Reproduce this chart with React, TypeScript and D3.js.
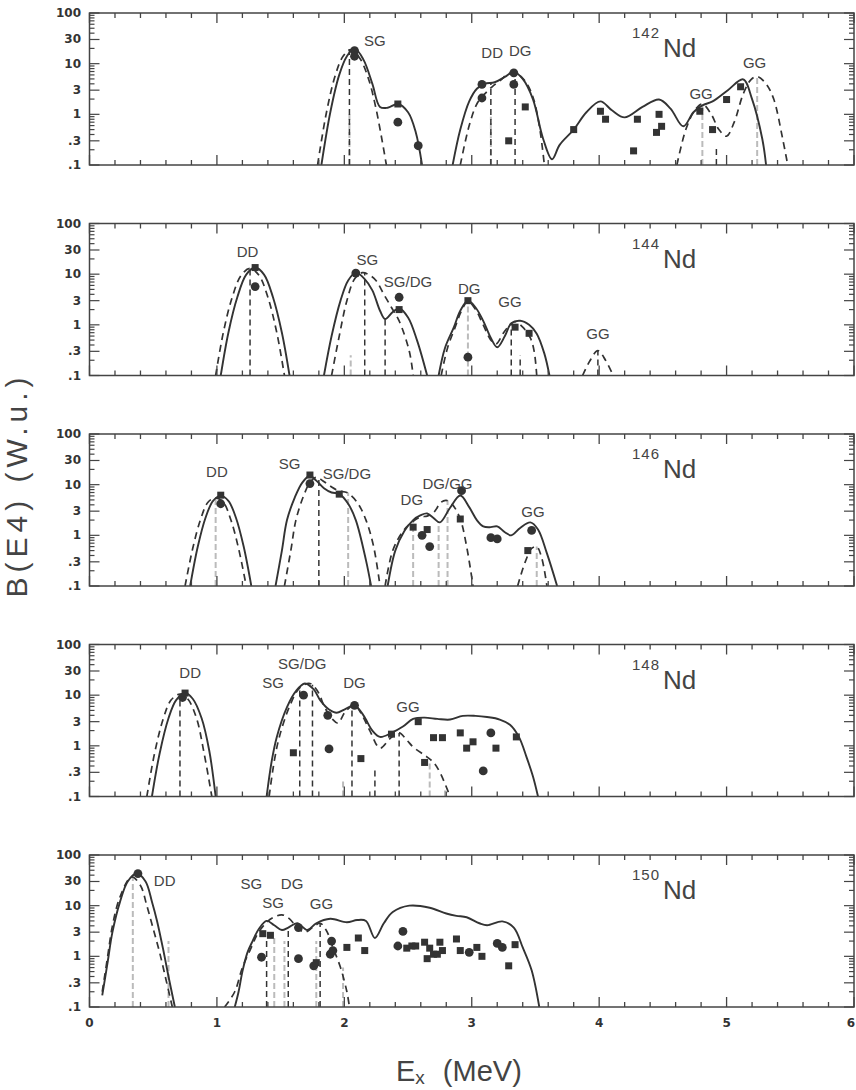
import * as d3 from 'd3';

type Pt = [number, number];
type Lab = { text: string; x: number; y: number };

// ---- 142Nd ----
const nd142Solid: Pt[][] = [
  [[1.82, 0.1], [1.89, 1.1], [1.96, 6], [2.02, 14], [2.08, 20], [2.15, 12], [2.22, 4], [2.28, 1.4], [2.34, 1.35], [2.42, 1.6], [2.5, 1.1], [2.56, 0.45], [2.61, 0.1]],
  [[2.85, 0.1], [2.91, 0.5], [2.98, 1.8], [3.04, 3.2], [3.1, 4.0], [3.18, 4.3], [3.26, 5.5], [3.33, 6.9], [3.4, 5], [3.48, 2], [3.56, 0.33], [3.63, 0.13], [3.69, 0.25], [3.8, 0.5], [3.9, 1.1], [4.01, 1.8], [4.1, 1.2], [4.2, 0.87], [4.34, 1.4], [4.47, 1.96], [4.56, 1.3], [4.66, 0.58], [4.74, 1.1], [4.81, 1.5], [4.89, 1.8], [5.01, 3], [5.13, 4.9], [5.2, 2.0], [5.28, 0.33], [5.31, 0.1]],
];
const nd142Dashed: Pt[][] = [
  [[1.79, 0.1], [1.86, 1.1], [1.93, 6], [1.99, 14], [2.05, 19], [2.12, 13], [2.19, 5], [2.25, 1.25], [2.33, 0.1]],
  [[2.91, 0.1], [2.98, 0.6], [3.04, 1.6], [3.1, 2.5], [3.16, 3.5], [3.23, 4.8], [3.28, 6.2], [3.34, 6.6], [3.42, 4.5], [3.48, 2.2], [3.53, 0.6], [3.57, 0.1]],
  [[4.61, 0.1], [4.68, 0.5], [4.75, 1.2], [4.81, 1.6], [4.88, 1.0], [4.94, 0.5], [5.0, 0.37], [5.06, 0.7], [5.13, 2.5], [5.19, 4.8], [5.24, 5.6], [5.31, 4], [5.37, 2], [5.44, 0.33], [5.48, 0.1]],
];
const nd142Sticks: Pt[] = [[2.04, 19], [3.15, 4.2], [3.34, 6.6], [4.92, 0.24]];
const nd142Faint: Pt[] = [[2.04, 1], [3.15, 0.9], [4.81, 1.5], [5.24, 5.6]];
const nd142Circles: Pt[] = [[2.08, 18], [2.08, 14], [2.42, 0.7], [2.58, 0.24], [3.08, 3.9], [3.08, 2.1], [3.33, 6.6], [3.33, 3.9]];
const nd142Squares: Pt[] = [[2.42, 1.6], [3.42, 1.4], [3.29, 0.3], [3.8, 0.5], [4.01, 1.15], [4.05, 0.8], [4.27, 0.19], [4.3, 0.8], [4.47, 1.0], [4.49, 0.58], [4.45, 0.44], [4.79, 1.15], [4.89, 0.5], [5.0, 1.96], [5.11, 3.5]];
const nd142Labels: Lab[] = [
  { text: 'SG', x: 2.24, y: 29 }, { text: 'DD', x: 3.16, y: 16.6 }, { text: 'DG', x: 3.38, y: 18 },
  { text: 'GG', x: 4.8, y: 2.6 }, { text: 'GG', x: 5.22, y: 10.5 },
];

// ---- 144Nd ----
const nd144Solid: Pt[][] = [
  [[1.03, 0.1], [1.09, 0.7], [1.16, 3.5], [1.23, 9.8], [1.3, 13.5], [1.37, 9.8], [1.44, 3.5], [1.51, 0.7], [1.57, 0.1]],
  [[1.84, 0.1], [1.9, 0.6], [1.97, 3], [2.03, 7.5], [2.09, 10.7], [2.16, 8], [2.22, 4.8], [2.28, 1.9], [2.32, 1.3], [2.38, 1.8], [2.43, 2.1], [2.5, 1.4], [2.57, 0.5], [2.65, 0.1]],
  [[2.74, 0.1], [2.79, 0.35], [2.86, 0.9], [2.91, 1.9], [2.97, 3.0], [3.03, 2.2], [3.09, 1.2], [3.15, 0.55], [3.2, 0.36], [3.26, 0.6], [3.31, 1.07], [3.38, 1.2], [3.45, 1.0], [3.51, 0.67], [3.57, 0.27], [3.61, 0.1]],
];
const nd144Dashed: Pt[][] = [
  [[0.99, 0.1], [1.05, 0.7], [1.12, 3.5], [1.19, 9.5], [1.26, 13], [1.33, 9.5], [1.4, 3.5], [1.47, 0.7], [1.53, 0.1]],
  [[1.9, 0.1], [1.96, 0.6], [2.02, 3], [2.08, 8], [2.14, 10.7], [2.2, 9.5], [2.25, 7.4], [2.31, 4], [2.37, 2.2], [2.43, 1.2], [2.51, 0.3], [2.54, 0.1]],
  [[2.76, 0.1], [2.81, 0.35], [2.87, 0.9], [2.92, 1.9], [2.97, 2.9], [3.03, 2.0], [3.09, 1.0], [3.15, 0.5], [3.19, 0.42], [3.25, 0.7], [3.3, 1.0], [3.34, 1.15], [3.4, 0.9], [3.46, 0.55], [3.49, 0.3], [3.51, 0.1]],
  [[3.87, 0.1], [3.93, 0.2], [3.99, 0.31], [4.05, 0.2], [4.11, 0.1]],
];
const nd144Sticks: Pt[] = [[1.26, 13], [2.16, 10.5], [2.32, 1.3], [3.31, 1.07], [3.38, 0.25], [3.99, 0.31]];
const nd144Faint: Pt[] = [[2.97, 3.0], [2.05, 0.25]];
const nd144Circles: Pt[] = [[1.3, 5.7], [2.09, 10.5], [2.43, 3.5], [2.97, 0.23]];
const nd144Squares: Pt[] = [[1.3, 13.5], [2.43, 2.0], [2.97, 3.0], [3.34, 0.9], [3.45, 0.68]];
const nd144Labels: Lab[] = [
  { text: 'DD', x: 1.24, y: 28 }, { text: 'SG', x: 2.18, y: 19.5 }, { text: 'SG/DG', x: 2.5, y: 7.2 },
  { text: 'DG', x: 2.98, y: 5.1 }, { text: 'GG', x: 3.3, y: 2.9 }, { text: 'GG', x: 3.99, y: 0.66 },
];

// ---- 146Nd ----
const nd146Solid: Pt[][] = [
  [[0.79, 0.1], [0.85, 0.6], [0.91, 2.2], [0.97, 4.8], [1.03, 6], [1.09, 4.8], [1.15, 2.2], [1.21, 0.6], [1.27, 0.1]],
  [[1.46, 0.1], [1.51, 0.5], [1.55, 2.0], [1.61, 5.5], [1.67, 11], [1.73, 15], [1.78, 12], [1.84, 8.5], [1.9, 7], [1.96, 6.6], [2.03, 4.2], [2.09, 2.0], [2.17, 0.32], [2.21, 0.1]],
  [[2.34, 0.1], [2.4, 0.5], [2.47, 1.2], [2.54, 2.0], [2.6, 2.5], [2.65, 2.7], [2.7, 2.2], [2.75, 1.8], [2.83, 3.5], [2.91, 6.1], [2.98, 3.6], [3.04, 2.0], [3.09, 1.5], [3.15, 1.45], [3.2, 1.5], [3.26, 1.15], [3.31, 1.0], [3.38, 1.4], [3.46, 1.8], [3.52, 1.3], [3.59, 0.44], [3.67, 0.1]],
];
const nd146Dashed: Pt[][] = [
  [[0.75, 0.1], [0.81, 0.55], [0.87, 2], [0.93, 4.5], [0.99, 5.5], [1.05, 4.5], [1.11, 2], [1.17, 0.55], [1.23, 0.1]],
  [[1.53, 0.1], [1.58, 0.5], [1.62, 2], [1.68, 6], [1.73, 11], [1.78, 14], [1.83, 12], [1.9, 9], [1.96, 7.5], [2.02, 7], [2.1, 4.5], [2.17, 2.0], [2.23, 0.6], [2.28, 0.1]],
  [[2.32, 0.1], [2.38, 0.5], [2.46, 1.2], [2.54, 1.9], [2.6, 2.3], [2.65, 2.4], [2.7, 2.8], [2.76, 4.5], [2.8, 4.9], [2.85, 4], [2.91, 2.1], [2.96, 0.6], [3.01, 0.1]],
  [[3.36, 0.1], [3.42, 0.3], [3.47, 0.55], [3.51, 0.6], [3.55, 0.35], [3.59, 0.1]],
];
const nd146Sticks: Pt[] = [[1.8, 14]];
const nd146Faint: Pt[] = [[0.99, 5.5], [2.03, 7], [2.54, 1.9], [2.74, 1.8], [2.81, 4.9], [3.51, 0.6]];
const nd146Circles: Pt[] = [[1.03, 4.2], [1.73, 10.5], [2.61, 1.0], [2.67, 0.6], [2.92, 7.6], [3.15, 0.9], [3.2, 0.85], [3.47, 1.25]];
const nd146Squares: Pt[] = [[1.03, 6.2], [1.73, 15.5], [1.96, 6.5], [2.54, 1.45], [2.65, 1.3], [2.91, 2.1], [3.44, 0.5]];
const nd146Labels: Lab[] = [
  { text: 'DD', x: 1.0, y: 18 }, { text: 'SG', x: 1.57, y: 26 }, { text: 'SG/DG', x: 2.02, y: 16.6 },
  { text: 'DG', x: 2.53, y: 5.1 }, { text: 'DG/GG', x: 2.81, y: 10.5 }, { text: 'GG', x: 3.48, y: 2.9 },
];

// ---- 148Nd ----
const nd148Solid: Pt[][] = [
  [[0.49, 0.1], [0.55, 0.7], [0.62, 3.5], [0.68, 8], [0.75, 11], [0.81, 8.5], [0.88, 3.5], [0.94, 0.8], [0.99, 0.1]],
  [[1.39, 0.1], [1.43, 0.5], [1.47, 1.5], [1.55, 5.8], [1.62, 12], [1.69, 17], [1.76, 13], [1.81, 8], [1.88, 5.2], [1.94, 4.5], [2.0, 5.2], [2.08, 6.3], [2.15, 4], [2.22, 2.0], [2.28, 1.5], [2.37, 1.8], [2.46, 2.4], [2.54, 3.4], [2.63, 3.6], [2.73, 3.4], [2.83, 3.3], [2.93, 3.9], [3.03, 3.9], [3.12, 3.7], [3.22, 3.3], [3.3, 2.6], [3.37, 1.5], [3.43, 0.6], [3.48, 0.25], [3.52, 0.1]],
];
const nd148Dashed: Pt[][] = [
  [[0.45, 0.1], [0.51, 0.7], [0.58, 3.5], [0.64, 8], [0.71, 10.5], [0.77, 8.5], [0.84, 3.5], [0.9, 0.7], [0.96, 0.1]],
  [[1.41, 0.1], [1.45, 0.5], [1.49, 1.5], [1.57, 6], [1.65, 14], [1.73, 17], [1.79, 12], [1.85, 5.5], [1.91, 3.3], [1.95, 2.8], [2.01, 4.8], [2.08, 6.3], [2.14, 4], [2.2, 2.0], [2.28, 0.9], [2.36, 1.4], [2.43, 1.8], [2.49, 1.3], [2.54, 0.95], [2.65, 0.6], [2.7, 0.47], [2.75, 0.3], [2.83, 0.1]],
];
const nd148Sticks: Pt[] = [[0.71, 10.5], [1.65, 14], [1.75, 16], [2.06, 6.3], [2.24, 0.33], [2.43, 1.8]];
const nd148Faint: Pt[] = [[1.99, 0.2], [2.67, 0.47], [2.79, 0.15]];
const nd148Circles: Pt[] = [[0.73, 9], [1.68, 10], [1.88, 0.87], [1.87, 4.0], [2.08, 6.3], [3.15, 1.8], [3.09, 0.32]];
const nd148Squares: Pt[] = [[0.75, 11], [1.6, 0.73], [2.13, 0.56], [2.37, 1.7], [2.58, 3.0], [2.63, 0.47], [2.7, 1.45], [2.77, 1.45], [2.91, 1.8], [2.96, 0.9], [3.01, 1.2], [3.19, 0.9], [3.35, 1.5]];
const nd148Labels: Lab[] = [
  { text: 'DD', x: 0.79, y: 28 }, { text: 'SG/DG', x: 1.67, y: 43 }, { text: 'SG', x: 1.44, y: 17.5 },
  { text: 'DG', x: 2.08, y: 17.5 }, { text: 'GG', x: 2.5, y: 6 },
];

// ---- 150Nd ----
const nd150Solid: Pt[][] = [
  [[0.1, 0.17], [0.14, 0.7], [0.18, 3], [0.24, 12], [0.3, 30], [0.37, 43], [0.44, 30], [0.49, 12], [0.53, 5], [0.58, 1.3], [0.62, 0.4], [0.67, 0.1]],
  [[1.14, 0.1], [1.17, 0.2], [1.2, 0.5], [1.24, 1.2], [1.28, 2.0], [1.33, 3.5], [1.39, 5], [1.45, 4.1], [1.51, 3.3], [1.56, 3.7], [1.63, 4.5], [1.71, 3.3], [1.78, 4.5], [1.89, 5.5], [2.02, 4.7], [2.1, 5.2], [2.17, 5], [2.24, 2.3], [2.31, 4.5], [2.38, 7.5], [2.51, 10], [2.67, 9.1], [2.8, 7], [2.88, 6.3], [2.96, 5.9], [3.06, 4.5], [3.12, 4.1], [3.24, 4.9], [3.33, 3.7], [3.4, 1.5], [3.47, 0.53], [3.53, 0.1]],
];
const nd150Dashed: Pt[][] = [
  [[0.1, 0.2], [0.14, 0.9], [0.18, 4], [0.24, 15], [0.33, 37], [0.4, 25], [0.45, 10], [0.5, 3.5], [0.55, 1.2], [0.6, 0.35], [0.65, 0.1]],
  [[1.06, 0.1], [1.14, 0.2], [1.2, 0.6], [1.27, 1.5], [1.32, 2.8], [1.39, 4.7], [1.44, 5.8], [1.51, 6.6], [1.57, 5.5], [1.63, 3.7], [1.69, 3.0], [1.75, 3.7], [1.81, 4.5], [1.86, 3.2], [1.91, 1.5], [1.97, 0.6], [2.02, 0.2], [2.04, 0.1]],
];
const nd150Sticks: Pt[] = [[1.39, 2.3], [1.56, 3.7], [1.81, 4.4]];
const nd150Faint: Pt[] = [[0.34, 37], [0.62, 2], [1.45, 2.5], [1.53, 2], [1.78, 2], [1.99, 0.6]];
const nd150Circles: Pt[] = [[0.38, 43], [1.35, 0.96], [1.64, 0.9], [1.64, 3.7], [1.76, 0.65], [1.89, 1.1], [1.91, 1.3], [1.9, 2.0], [2.46, 3.1], [2.42, 1.6], [3.2, 1.8], [3.24, 1.5], [2.98, 1.2]];
const nd150Squares: Pt[] = [[1.36, 2.8], [1.42, 2.6], [1.78, 0.75], [2.02, 1.5], [2.11, 2.3], [2.16, 1.3], [2.49, 1.45], [2.53, 1.6], [2.56, 1.6], [2.63, 1.9], [2.67, 1.45], [2.65, 0.9], [2.7, 1.1], [2.73, 1.1], [2.75, 1.9], [2.77, 1.3], [2.88, 2.2], [2.91, 1.3], [3.04, 1.5], [3.08, 1.0], [3.29, 0.65], [3.34, 1.7]];
const nd150Labels: Lab[] = [
  { text: 'DD', x: 0.59, y: 31 }, { text: 'SG', x: 1.27, y: 28 }, { text: 'DG', x: 1.59, y: 28 },
  { text: 'SG', x: 1.44, y: 11.5 }, { text: 'GG', x: 1.82, y: 11 },
];

const nuclides = ['142', '144', '146', '148', '150'];
const yTickValues = [100, 30, 10, 3, 1, 0.3, 0.1];
const yTickLabels = ['100', '30', '10', '3', '1', '.3', '.1'];
const xTickLabels = ['0', '1', '2', '3', '4', '5', '6'];

const panels = [
  { solid: nd142Solid, dashed: nd142Dashed, sticks: nd142Sticks, faint: nd142Faint, circles: nd142Circles, squares: nd142Squares, labels: nd142Labels },
  { solid: nd144Solid, dashed: nd144Dashed, sticks: nd144Sticks, faint: nd144Faint, circles: nd144Circles, squares: nd144Squares, labels: nd144Labels },
  { solid: nd146Solid, dashed: nd146Dashed, sticks: nd146Sticks, faint: nd146Faint, circles: nd146Circles, squares: nd146Squares, labels: nd146Labels },
  { solid: nd148Solid, dashed: nd148Dashed, sticks: nd148Sticks, faint: nd148Faint, circles: nd148Circles, squares: nd148Squares, labels: nd148Labels },
  { solid: nd150Solid, dashed: nd150Dashed, sticks: nd150Sticks, faint: nd150Faint, circles: nd150Circles, squares: nd150Squares, labels: nd150Labels },
];

const W = 856, H = 1090;
const LEFT = 89.5, RIGHT = 854;
const TOP0 = 13, STEP = 210.5, PANEL_H = 152;
const INK = '#333';
const SANS = '"Liberation Sans", Arial, sans-serif';
const TICKFONT = '"DejaVu Sans", sans-serif';

const xScale = d3.scaleLinear().domain([0, 6]).range([LEFT, RIGHT]);

function Panel({ p, i }: { p: (typeof panels)[number]; i: number }) {
  const top = TOP0 + i * STEP;
  const bottom = top + PANEL_H;
  const yScale = d3.scaleLog().domain([0.1, 100]).range([bottom, top]);
  const line = d3
    .line<Pt>()
    .x((d) => xScale(d[0]))
    .y((d) => yScale(d[1]))
    .curve(d3.curveCatmullRom.alpha(0.5));

  // x ticks every 0.2 MeV, longer at whole MeV
  const xTicks = d3.range(0, 31).map((k) => ({ v: k / 5, major: k % 5 === 0 }));
  // log ticks
  const yTicks: { v: number; major: boolean }[] = [];
  [0.1, 1, 10].forEach((dec) => {
    for (let k = 1; k <= 9; k++) yTicks.push({ v: k * dec, major: k === 1 || k === 3 });
  });
  yTicks.push({ v: 100, major: true });

  const clipId = `clip${i}`;
  const last = i === panels.length - 1;
  return (
    <g>
      <defs>
        <clipPath id={clipId}>
          <rect x={LEFT} y={top} width={RIGHT - LEFT} height={PANEL_H} />
        </clipPath>
      </defs>
      <g clipPath={`url(#${clipId})`}>
        {p.faint.map((d, k) => (
          <line key={'f' + k} x1={xScale(d[0])} x2={xScale(d[0])} y1={bottom} y2={yScale(d[1])}
            stroke="#bbb" strokeWidth={2} strokeDasharray="6,3" />
        ))}
        {p.sticks.map((d, k) => (
          <line key={'s' + k} x1={xScale(d[0])} x2={xScale(d[0])} y1={bottom} y2={yScale(d[1])}
            stroke={INK} strokeWidth={1.5} strokeDasharray="6,4" />
        ))}
        {p.solid.map((seg, k) => (
          <path key={'c' + k} d={line(seg) ?? ''} fill="none" stroke={INK} strokeWidth={1.9} />
        ))}
        {p.dashed.map((seg, k) => (
          <path key={'d' + k} d={line(seg) ?? ''} fill="none" stroke={INK} strokeWidth={1.7} strokeDasharray="7,5" />
        ))}
        {p.circles.map((d, k) => (
          <circle key={'o' + k} cx={xScale(d[0])} cy={yScale(d[1])} r={4.4} fill={INK} />
        ))}
        {p.squares.map((d, k) => (
          <rect key={'q' + k} x={xScale(d[0]) - 3.5} y={yScale(d[1]) - 3.5} width={7} height={7} fill={INK} />
        ))}
      </g>

      {p.labels.map((l, k) => (
        <text key={'l' + k} x={xScale(l.x)} y={yScale(l.y)} textAnchor="middle" dominantBaseline="central"
          fontFamily={SANS} fontSize={15} fill="#444">
          {l.text}
        </text>
      ))}

      <text x={632} y={top + 25} fontFamily={SANS} fontSize={15} fill="#444" letterSpacing={1}>
        {nuclides[i]}
      </text>
      <text x={663} y={top + 44} fontFamily={SANS} fontSize={26} fill="#444">
        Nd
      </text>

      {/* frame */}
      <rect x={LEFT} y={top} width={RIGHT - LEFT} height={PANEL_H} fill="none" stroke="#444" strokeWidth={1.5} />

      {xTicks.map((t, k) => {
        const px = xScale(t.v);
        const len = t.major ? 10 : 5;
        return (
          <g key={'xt' + k} stroke="#444" strokeWidth={1.3}>
            <line x1={px} x2={px} y1={bottom} y2={bottom - len} />
            <line x1={px} x2={px} y1={top} y2={top + len} />
          </g>
        );
      })}
      {yTicks.map((t, k) => {
        const py = yScale(t.v);
        const len = t.major ? 10 : 5;
        return (
          <g key={'yt' + k} stroke="#444" strokeWidth={1.2}>
            <line x1={LEFT} x2={LEFT + len} y1={py} y2={py} />
            <line x1={RIGHT} x2={RIGHT - len} y1={py} y2={py} />
          </g>
        );
      })}
      {yTickValues.map((v, k) => (
        <text key={'yl' + k} x={81} y={yScale(v)} textAnchor="end" dominantBaseline="central"
          fontFamily={TICKFONT} fontWeight="bold" fontSize={12} fill="#333">
          {yTickLabels[k]}
        </text>
      ))}
      {last &&
        xTickLabels.map((s, k) => {
          const atEdge = k === xTickLabels.length - 1;
          return (
            <text key={'xl' + k} x={atEdge ? W - 1 : xScale(k)} y={bottom + 16}
              textAnchor={atEdge ? 'end' : 'middle'} dominantBaseline="central"
              fontFamily={TICKFONT} fontWeight="bold" fontSize={12} fill="#333">
              {s}
            </text>
          );
        })}
    </g>
  );
}

export default function App() {
  return (
    <div style={{ position: 'absolute', left: 0, top: 0 }}>
      <svg width={W} height={H} style={{ display: 'block', background: '#fff' }}>
        {panels.map((p, i) => (
          <Panel key={i} p={p} i={i} />
        ))}
        <text transform="translate(27,485) rotate(-90)" textAnchor="middle" fontFamily={SANS} fontSize={30}
          letterSpacing={5} fill="#444">
          B(E4) (W.u.)
        </text>
        <text x={396} y={1081} fontFamily={SANS} fontSize={29} fill="#444">
          E
          <tspan fontSize={19} dy={3}>x</tspan>
          <tspan dy={-3} dx={18}>(MeV)</tspan>
        </text>
      </svg>
    </div>
  );
}
